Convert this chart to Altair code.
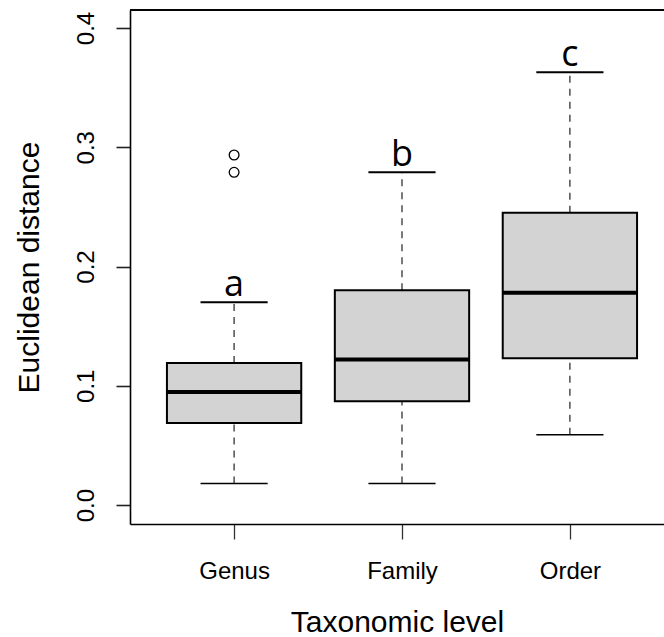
import json
import altair as alt
import pandas as pd

# ---- data ----
groups = ["Genus", "Family", "Order"]
lower_whisker = [0.018, 0.018, 0.059]
q1 = [0.0688, 0.087, 0.123]
median = [0.0948, 0.122, 0.178]
q3 = [0.119, 0.180, 0.245]
upper_whisker = [0.170, 0.279, 0.363]
letters = ["a", "b", "c"]
outlier_group = ["Genus", "Genus"]
outlier_value = [0.279, 0.2935]
y_ticks = [0.0, 0.1, 0.2, 0.3, 0.4]
x_title = "Taxonomic level"
y_title = "Euclidean distance"

pos = {g: i + 1 for i, g in enumerate(groups)}
df = pd.DataFrame({
    "group": groups,
    "pos": [pos[g] for g in groups],
    "lo": lower_whisker,
    "q1": q1,
    "med": median,
    "q3": q3,
    "hi": upper_whisker,
    "letter": letters,
})
out_df = pd.DataFrame({"pos": [pos[g] for g in outlier_group], "v": outlier_value})

W, H = 534, 514
FONT = "Liberation Sans"

xs = alt.Scale(domain=[0.38, 3.5605], nice=False, zero=False)
ys = alt.Scale(domain=[-0.0159, 0.4151], nice=False, zero=False)

x_axis = alt.Axis(
    values=[1, 2, 3],
    labelExpr=f"{json.dumps(groups)}[datum.value - 1]",
    grid=False, tickSize=15, tickColor="#333", tickWidth=1.3,
    domainColor="black", domainWidth=1.6,
    labelFont=FONT, labelFontSize=24, labelColor="black", labelPadding=20,
    labelFlush=False, labelOverlap=False,
    title=x_title, titleFont=FONT, titleFontSize=30, titleFontWeight="normal",
    titleColor="black", titleY=98, titleBaseline="middle",
)
y_axis = alt.Axis(
    values=y_ticks, format=".1f",
    grid=False, tickSize=14, tickColor="#222", tickWidth=1.6,
    domainColor="black", domainWidth=1.6,
    labelFont=FONT, labelFontSize=24, labelColor="black",
    labelAngle=270, labelAlign="center", labelBaseline="bottom", labelPadding=18,
    labelFlush=False, labelOverlap=False,
    title=y_title, titleFont=FONT, titleFontSize=30, titleFontWeight="normal",
    titleColor="black", titleAngle=270, titleX=-101, titleY=H / 2,
    titleAlign="center", titleBaseline="middle",
)


def X(field):
    return alt.X(field, scale=xs, axis=x_axis)


def Y(field):
    return alt.Y(field, scale=ys, axis=y_axis)


base = alt.Chart(df).transform_calculate(
    xl="datum.pos - 0.4", xr="datum.pos + 0.4",
    cl="datum.pos - 0.2", cr="datum.pos + 0.2",
)

whisk_up = base.mark_rule(color="#333", strokeWidth=1.3, strokeDash=[7, 6]).encode(
    x=X("pos:Q"), y=Y("q3:Q"), y2="hi:Q",
)
whisk_lo = base.mark_rule(color="#333", strokeWidth=1.3, strokeDash=[7, 6]).encode(
    x=X("pos:Q"), y=Y("lo:Q"), y2="q1:Q",
)
cap_up = base.mark_rule(color="black", strokeWidth=2).encode(
    x=X("cl:Q"), x2="cr:Q", y=Y("hi:Q"),
)
cap_lo = base.mark_rule(color="black", strokeWidth=1.6).encode(
    x=X("cl:Q"), x2="cr:Q", y=Y("lo:Q"),
)
box = base.mark_rect(fill="#D3D3D3", stroke="black", strokeWidth=2).encode(
    x=X("xl:Q"), x2="xr:Q", y=Y("q1:Q"), y2="q3:Q",
)
med = base.mark_rule(color="black", strokeWidth=4).encode(
    x=X("xl:Q"), x2="xr:Q", y=Y("med:Q"),
)
txt = base.mark_text(font="Open Sans", fontSize=36, baseline="alphabetic", dy=-6, color="black").encode(
    x=X("pos:Q"), y=Y("hi:Q"), text="letter:N",
)
outl = alt.Chart(out_df).mark_point(shape="circle", filled=False, size=95, color="black", strokeWidth=1.3, opacity=1).encode(
    x=X("pos:Q"), y=Y("v:Q"),
)
top = alt.Chart(df).mark_rule(color="black", strokeWidth=1.6).encode(
    x=alt.value(0), x2=alt.value(W), y=alt.value(0)
)

chart = alt.layer(whisk_up, whisk_lo, cap_up, cap_lo, box, med, outl, txt, top).properties(
    width=W, height=H,
    padding={"left": 130, "top": 10, "right": 0, "bottom": 113},
    autosize=alt.AutoSizeParams(type="none"),
    background="white",
).configure_view(stroke=None)

chart.save("out.html", embed_options={"renderer": "svg", "actions": False})
